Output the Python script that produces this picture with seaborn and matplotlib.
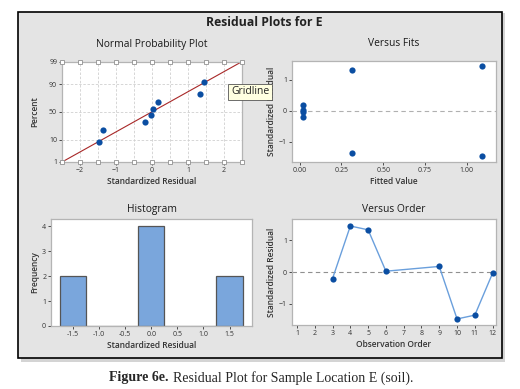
import numpy as np
import pandas as pd
import matplotlib
matplotlib.use('Agg')
import matplotlib.pyplot as plt
import seaborn as sns
from matplotlib.patches import Rectangle
from statistics import NormalDist

# Dados
ordem = [3, 4, 5, 6, 9, 10, 11, 12]
residuos = [-0.20, 1.45, 1.33, 0.03, 0.18, -1.47, -1.35, -0.03]
ajustados = [0.02, 1.09, 0.31, 0.02, 0.02, 1.09, 0.31, 0.02]
percentuais = [8.3, 20.2, 32.1, 44.0, 56.0, 67.9, 79.8, 91.7]
linha_media = -0.01
linha_dp = 1.07
ticks_pct = [1, 10, 50, 90, 99]

sns.set_theme(style="white")
plt.rcParams['font.family'] = ['Open Sans', 'DejaVu Sans']

azul = '#0b4ea2'
cinza_fundo = '#e4e4e4'
borda = '#b4b4b4'

fig = plt.figure(figsize=(5.2, 3.89), dpi=100)
fig.patch.set_facecolor('white')

# Painel cinza com sombra
W, H = 520, 389
def fx(x): return x / W
def fy(y): return 1 - y / H
fig.patches.append(Rectangle((fx(21), fy(362)), fx(484), 349 / H, transform=fig.transFigure,
                             facecolor='#b8b8b8', edgecolor='none', alpha=0.6, zorder=-2))
fig.patches.append(Rectangle((fx(18), fy(358)), fx(484), 346 / H, transform=fig.transFigure,
                             facecolor=cinza_fundo, edgecolor='black', linewidth=1.2, zorder=-1))

fig.text(fx(264), fy(22), 'Residual Plots for E', ha='center', va='center',
         fontsize=8.8, fontweight='bold', color='#222222')

def estilo(ax, titulo, xlabel, ylabel, pad_titulo, pad_y=2):
    ax.set_facecolor('white')
    for s in ax.spines.values():
        s.set_color(borda)
        s.set_linewidth(0.9)
    ax.set_title(titulo, fontsize=7.4, fontweight='medium', color='#1a1a1a', pad=pad_titulo)
    ax.set_xlabel(xlabel, fontsize=6, fontweight='semibold', color='#333333', labelpad=2)
    ax.set_ylabel(ylabel, fontsize=6, fontweight='semibold', color='#333333', labelpad=pad_y)
    ax.tick_params(labelsize=5, colors='#333333', length=2, width=0.6, pad=1.5)
    ax.tick_params(axis='both', which='both', bottom=True, left=True)

# 1. Normal Probability Plot
ax1 = fig.add_axes([fx(62), fy(162), 180 / W, 100 / H])
nd = NormalDist()
z_pts = [nd.inv_cdf(p / 100) for p in percentuais]
res_ord = sorted(residuos)
zmin, zmax = nd.inv_cdf(0.01), nd.inv_cdf(0.99)
ax1.set_xlim(-2.5, 2.5)
ax1.set_ylim(zmin, zmax)
for gx in np.arange(-2.5, 2.51, 0.5):
    ax1.axvline(gx, color='#d0d0d0', lw=0.6, ls=(0, (3, 2)), zorder=0)
for p in [10, 50, 90]:
    ax1.axhline(nd.inv_cdf(p / 100), color='#d0d0d0', lw=0.6, ls=(0, (3, 2)), zorder=0)
zl = np.array([zmin, zmax])
sns.lineplot(x=linha_media + linha_dp * zl, y=zl, ax=ax1, color='#a82828', lw=0.8)
sns.scatterplot(x=res_ord, y=z_pts, ax=ax1, color=azul, s=20, edgecolor=azul, linewidth=0, zorder=3)
hx = np.arange(-2.5, 2.51, 0.5)
for yy in [zmin, zmax]:
    ax1.plot(hx, [yy] * len(hx), ls='none', marker='s', ms=3.5, mfc='white', mec='#909090',
             mew=0.6, clip_on=False, zorder=4)
ax1.set_yticks([nd.inv_cdf(p / 100) for p in ticks_pct])
ax1.set_yticklabels([str(p) for p in ticks_pct])
ax1.set_xticks([-2, -1, 0, 1, 2])
estilo(ax1, 'Normal Probability Plot', 'Standardized Residual', 'Percent', 11, pad_y=7)
fig.text(fx(231), fy(92), 'Gridline', fontsize=7.5, va='center', ha='left', color='#222222',
         bbox=dict(boxstyle='square,pad=0.25', facecolor='#ffffe1', edgecolor='#555555', lw=0.6))

# 2. Versus Fits
ax2 = fig.add_axes([fx(292), fy(162), 204 / W, 101 / H])
ax2.axhline(0, color='#b0b0b0', lw=0.8, ls=(0, (4, 3)), zorder=0)
sns.scatterplot(x=ajustados, y=residuos, ax=ax2, color=azul, s=20, linewidth=0, zorder=3)
ax2.set_xlim(-0.046, 1.174)
ax2.set_ylim(-1.65, 1.61)
ax2.set_xticks([0, 0.25, 0.5, 0.75, 1.0])
ax2.set_xticklabels(['0.00', '0.25', '0.50', '0.75', '1.00'])
ax2.set_yticks([-1, 0, 1])
estilo(ax2, 'Versus Fits', 'Fitted Value', 'Standardized Residual', 11)

# 3. Histogram
ax3 = fig.add_axes([fx(51), fy(326), 201 / W, 107 / H])
sns.histplot(x=residuos, binwidth=0.5, binrange=(-1.75, 1.75), ax=ax3,
             color='#7aa6dc', edgecolor='#555555', linewidth=0.9, alpha=1)
ax3.set_xlim(-1.92, 1.93)
ax3.set_ylim(0, 4.3)
ax3.set_xticks([-1.5, -1.0, -0.5, 0.0, 0.5, 1.0, 1.5])
ax3.set_xticklabels(['-1.5', '-1.0', '-0.5', '0.0', '0.5', '1.0', '1.5'])
ax3.set_yticks([0, 1, 2, 3, 4])
estilo(ax3, 'Histogram', 'Standardized Residual', 'Frequency', 5)

# 4. Versus Order
ax4 = fig.add_axes([fx(292), fy(325), 204 / W, 106 / H])
ax4.axhline(0, color='#909090', lw=0.8, ls=(0, (4, 3)), zorder=0)
df_ordem = pd.DataFrame({'ordem': ordem, 'residuo': residuos})
sns.lineplot(data=df_ordem, x='ordem', y='residuo', ax=ax4, color='#6a9fdc', lw=1.0)
sns.scatterplot(data=df_ordem, x='ordem', y='residuo', ax=ax4, color=azul, s=20, linewidth=0, zorder=3)
ax4.set_xlim(0.72, 12.19)
ax4.set_ylim(-1.66, 1.67)
ax4.set_xticks(range(1, 13))
ax4.set_yticks([-1, 0, 1])
estilo(ax4, 'Versus Order', 'Observation Order', 'Standardized Residual', 5)

# Legenda da figura
fig.text(fx(109), fy(378), 'Figure 6e.', fontsize=10, fontweight='bold', family='Liberation Serif',
         ha='left', va='center')
fig.text(fx(173), fy(378), 'Residual Plot for Sample Location E (soil).', fontsize=10,
         family='Liberation Serif', ha='left', va='center')

fig.savefig('out.png', dpi=100)
